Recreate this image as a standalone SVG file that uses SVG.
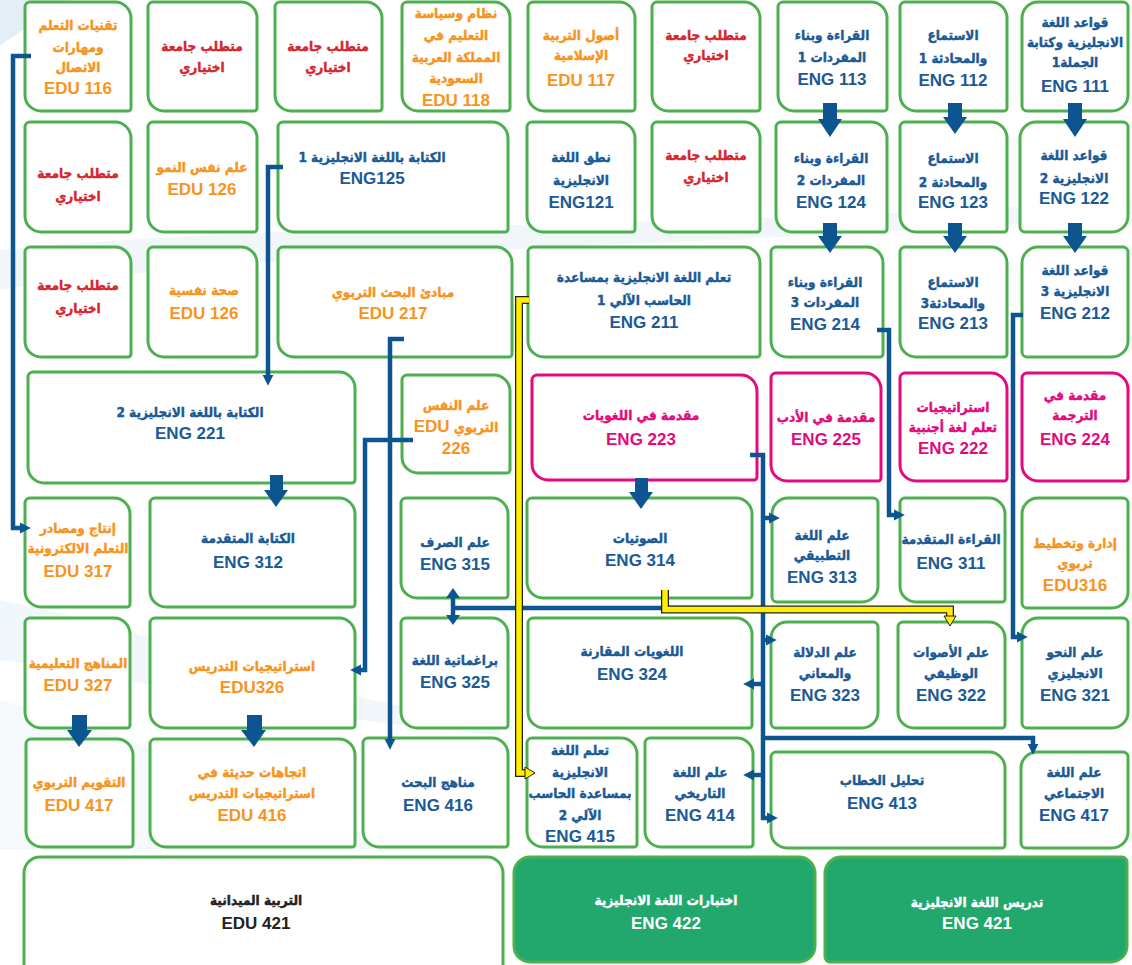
<svg xmlns="http://www.w3.org/2000/svg" width="1132" height="965" viewBox="0 0 1132 965">
<style>
.g{fill:#fff;stroke:#4cb04f;stroke-width:3}
.pk{fill:#fff;stroke:#e4097f;stroke-width:3}
.gf{fill:#22a86c;stroke:#4cb04f;stroke-width:3}
text{font-family:"Liberation Sans","DejaVu Sans",sans-serif;font-weight:bold;text-anchor:middle}
.a{font-family:"DejaVu Sans Condensed","DejaVu Sans",sans-serif;font-size:13.5px;direction:rtl;stroke-width:0.4}
.b{fill:#1b5a95;stroke:#1b5a95}.o{fill:#f7941d;stroke:#f7941d}.r{fill:#d7262e;stroke:#d7262e}.p{fill:#e3097d;stroke:#e3097d}.k{fill:#222;stroke:#222}.w{fill:#fff;stroke:#fff}
text.c{font-size:17px;stroke:none}
.cn{fill:none;stroke:#0d5591;stroke-width:4.5}
.yo{fill:none;stroke:#222;stroke-width:8}
.yi{fill:none;stroke:#ffee00;stroke-width:5.5}
.blk{fill:#0d5591}
</style>
<defs>
<marker id="ah" viewBox="0 0 10 10" refX="2" refY="5" markerWidth="11" markerHeight="12" markerUnits="userSpaceOnUse" orient="auto"><path d="M0,0 L10,5 L0,10 z" fill="#0d5591"/></marker>
<marker id="ahw" viewBox="0 0 10 14" refX="2" refY="7" markerWidth="10" markerHeight="14" markerUnits="userSpaceOnUse" orient="auto-start-reverse"><path d="M0,0 L10,7 L0,14 z" fill="#0d5591"/></marker>
<marker id="ay" viewBox="-1 -1 12 14" refX="1" refY="6" markerWidth="12" markerHeight="14" markerUnits="userSpaceOnUse" orient="auto"><path d="M0,0 L10,6 L0,12 z" fill="#ffee00" stroke="#222" stroke-width="1"/></marker>
</defs>
<rect width="1132" height="965" fill="#ffffff"/>
<g id="background" fill="#e4eef7">
<path d="M0,0 H70 L0,45 z"/>
<path d="M0,250 C300,220 700,230 1132,200 V215 C700,250 300,245 0,290 z" opacity="0.5"/>
<path d="M0,600 C200,640 300,700 500,720 L500,735 C300,720 150,680 0,660 z" opacity="0.5"/>
<path d="M0,700 C150,740 250,790 400,850 L0,850 z" opacity="0.35"/>
</g>

<g id="n-edu116"><path class="g" d="M30,2h85a16 16 0 0 1 16 16v90a3 3 0 0 1-3 3h-87a16 16 0 0 1-16-16v-88a5 5 0 0 1 5-5z"/><text class="a o" x="78" y="30">تقنيات التعلم</text><text class="a o" x="78" y="52">ومهارات</text><text class="a o" x="78" y="72">الاتصال</text><text class="c o" x="78" y="94">EDU 116</text></g>
<g id="n-el1"><path class="g" d="M153,2h88a16 16 0 0 1 16 16v90a3 3 0 0 1-3 3h-90a16 16 0 0 1-16-16v-88a5 5 0 0 1 5-5z"/><text class="a r" x="202" y="51">متطلب جامعة</text><text class="a r" x="202" y="72">اختياري</text></g>
<g id="n-el2"><path class="g" d="M280,2h86a16 16 0 0 1 16 16v90a3 3 0 0 1-3 3h-88a16 16 0 0 1-16-16v-88a5 5 0 0 1 5-5z"/><text class="a r" x="328" y="51">متطلب جامعة</text><text class="a r" x="328" y="72">اختياري</text></g>
<g id="n-edu118"><path class="g" d="M407,2h87a16 16 0 0 1 16 16v90a3 3 0 0 1-3 3h-89a16 16 0 0 1-16-16v-88a5 5 0 0 1 5-5z"/><text class="a o" x="456" y="18">نظام وسياسة</text><text class="a o" x="456" y="40">التعليم في</text><text class="a o" x="456" y="62">المملكة العربية</text><text class="a o" x="456" y="83">السعودية</text><text class="c o" x="456" y="106">EDU 118</text></g>
<g id="n-edu117"><path class="g" d="M533,2h86a16 16 0 0 1 16 16v90a3 3 0 0 1-3 3h-88a16 16 0 0 1-16-16v-88a5 5 0 0 1 5-5z"/><text class="a o" x="581" y="40">أصول التربية</text><text class="a o" x="581" y="60">الإسلامية</text><text class="c o" x="581" y="86">EDU 117</text></g>
<g id="n-el3"><path class="g" d="M657,2h87a16 16 0 0 1 16 16v90a3 3 0 0 1-3 3h-89a16 16 0 0 1-16-16v-88a5 5 0 0 1 5-5z"/><text class="a r" x="706" y="40">متطلب جامعة</text><text class="a r" x="706" y="60">اختياري</text></g>
<g id="n-eng113"><path class="g" d="M783,2h88a16 16 0 0 1 16 16v90a3 3 0 0 1-3 3h-90a16 16 0 0 1-16-16v-88a5 5 0 0 1 5-5z"/><text class="a b" x="832" y="40">القراءة وبناء</text><text class="a b" x="832" y="62">المفردات 1</text><text class="c b" x="832" y="85">ENG 113</text></g>
<g id="n-eng112"><path class="g" d="M905,2h86a16 16 0 0 1 16 16v90a3 3 0 0 1-3 3h-88a16 16 0 0 1-16-16v-88a5 5 0 0 1 5-5z"/><text class="a b" x="953" y="40">الاستماع</text><text class="a b" x="953" y="63">والمحادثة 1</text><text class="c b" x="953" y="86">ENG 112</text></g>
<g id="n-eng111"><path class="g" d="M1038,2h85a5 5 0 0 1 5 5v88a16 16 0 0 1-16 16h-85a5 5 0 0 1-5-5v-88a16 16 0 0 1 16-16z"/><text class="a b" x="1075" y="27">قواعد اللغة</text><text class="a b" x="1075" y="47">الانجليزية وكتابة</text><text class="a b" x="1075" y="67">الجملة1</text><text class="c b" x="1075" y="92">ENG 111</text></g>

<g id="n-el4"><path class="g" d="M30,122h85a16 16 0 0 1 16 16v91a3 3 0 0 1-3 3h-87a16 16 0 0 1-16-16v-89a5 5 0 0 1 5-5z"/><text class="a r" x="78" y="178">متطلب جامعة</text><text class="a r" x="78" y="201">اختياري</text></g>
<g id="n-edu126a"><path class="g" d="M153,122h88a16 16 0 0 1 16 16v91a3 3 0 0 1-3 3h-90a16 16 0 0 1-16-16v-89a5 5 0 0 1 5-5z"/><text class="a o" x="202" y="172">علم نفس النمو</text><text class="c o" x="202" y="195">EDU 126</text></g>
<g id="n-eng125"><path class="g" d="M283,122h209a16 16 0 0 1 16 16v91a3 3 0 0 1-3 3h-211a16 16 0 0 1-16-16v-89a5 5 0 0 1 5-5z"/><text class="a b" x="372" y="162">الكتابة باللغة الانجليزية 1</text><text class="c b" x="372" y="184">ENG125</text></g>
<g id="n-eng121"><path class="g" d="M532,122h87a16 16 0 0 1 16 16v91a3 3 0 0 1-3 3h-89a16 16 0 0 1-16-16v-89a5 5 0 0 1 5-5z"/><text class="a b" x="581" y="162">نطق اللغة</text><text class="a b" x="581" y="185">الانجليزية</text><text class="c b" x="581" y="208">ENG121</text></g>
<g id="n-el5"><path class="g" d="M657,122h87a16 16 0 0 1 16 16v91a3 3 0 0 1-3 3h-89a16 16 0 0 1-16-16v-89a5 5 0 0 1 5-5z"/><text class="a r" x="706" y="160">متطلب جامعة</text><text class="a r" x="706" y="182">اختياري</text></g>
<g id="n-eng124"><path class="g" d="M781,122h90a16 16 0 0 1 16 16v91a3 3 0 0 1-3 3h-92a16 16 0 0 1-16-16v-89a5 5 0 0 1 5-5z"/><text class="a b" x="831" y="163">القراءة وبناء</text><text class="a b" x="831" y="185">المفردات 2</text><text class="c b" x="831" y="208">ENG  124</text></g>
<g id="n-eng123"><path class="g" d="M905,122h86a16 16 0 0 1 16 16v91a3 3 0 0 1-3 3h-88a16 16 0 0 1-16-16v-89a5 5 0 0 1 5-5z"/><text class="a b" x="953" y="163">الاستماع</text><text class="a b" x="953" y="187">والمحادثة 2</text><text class="c b" x="953" y="208">ENG  123</text></g>
<g id="n-eng122"><path class="g" d="M1036,122h87a5 5 0 0 1 5 5v89a16 16 0 0 1-16 16h-87a5 5 0 0 1-5-5v-89a16 16 0 0 1 16-16z"/><text class="a b" x="1074" y="160">قواعد اللغة</text><text class="a b" x="1074" y="183">الانجليزية 2</text><text class="c b" x="1074" y="204">ENG 122</text></g>

<g id="n-el6"><path class="g" d="M30,247h85a16 16 0 0 1 16 16v91a3 3 0 0 1-3 3h-87a16 16 0 0 1-16-16v-89a5 5 0 0 1 5-5z"/><text class="a r" x="78" y="290">متطلب جامعة</text><text class="a r" x="78" y="313">اختياري</text></g>
<g id="n-edu126b"><path class="g" d="M153,247h88a16 16 0 0 1 16 16v91a3 3 0 0 1-3 3h-90a16 16 0 0 1-16-16v-89a5 5 0 0 1 5-5z"/><text class="a o" x="204" y="295">صحة نفسية</text><text class="c o" x="204" y="319">EDU 126</text></g>
<g id="n-edu217"><path class="g" d="M283,247h213a16 16 0 0 1 16 16v91a3 3 0 0 1-3 3h-215a16 16 0 0 1-16-16v-89a5 5 0 0 1 5-5z"/><text class="a o" x="393" y="297">مبادئ البحث التربوي</text><text class="c o" x="393" y="319">EDU 217</text></g>
<g id="n-eng211"><path class="g" d="M533,247h211a16 16 0 0 1 16 16v91a3 3 0 0 1-3 3h-213a16 16 0 0 1-16-16v-89a5 5 0 0 1 5-5z"/><text class="a b" x="644" y="282">تعلم اللغة الانجليزية بمساعدة</text><text class="a b" x="644" y="305">الحاسب الآلي 1</text><text class="c b" x="644" y="328">ENG 211</text></g>
<g id="n-eng214"><path class="g" d="M776,247h91a16 16 0 0 1 16 16v91a3 3 0 0 1-3 3h-93a16 16 0 0 1-16-16v-89a5 5 0 0 1 5-5z"/><text class="a b" x="825" y="287">القراءة وبناء</text><text class="a b" x="825" y="307">المفردات 3</text><text class="c b" x="825" y="330">ENG  214</text></g>
<g id="n-eng213"><path class="g" d="M905,247h86a16 16 0 0 1 16 16v91a3 3 0 0 1-3 3h-88a16 16 0 0 1-16-16v-89a5 5 0 0 1 5-5z"/><text class="a b" x="953" y="287">الاستماع</text><text class="a b" x="953" y="308">والمحادثة3</text><text class="c b" x="953" y="329">ENG  213</text></g>
<g id="n-eng212"><path class="g" d="M1038,247h85a5 5 0 0 1 5 5v89a16 16 0 0 1-16 16h-85a5 5 0 0 1-5-5v-89a16 16 0 0 1 16-16z"/><text class="a b" x="1075" y="275">قواعد اللغة</text><text class="a b" x="1075" y="296">الانجليزية 3</text><text class="c b" x="1075" y="319">ENG 212</text></g>

<g id="n-eng221"><path class="g" d="M33,372h306a16 16 0 0 1 16 16v92a3 3 0 0 1-3 3h-308a16 16 0 0 1-16-16v-90a5 5 0 0 1 5-5z"/><text class="a b" x="190" y="417">الكتابة باللغة الانجليزية 2</text><text class="c b" x="190" y="439">ENG 221</text></g>
<g id="n-edu226"><path class="g" d="M407,375h87a16 16 0 0 1 16 16v79a3 3 0 0 1-3 3h-89a16 16 0 0 1-16-16v-77a5 5 0 0 1 5-5z"/><text class="a o" x="456" y="410">علم النفس</text><text class="a o" x="456" y="432"><tspan>التربوي</tspan> <tspan font-family="Liberation Sans, sans-serif" font-size="17" stroke="none">EDU</tspan></text><text class="c o" x="456" y="454">226</text></g>
<g id="n-eng223"><path class="pk" d="M537,375h204a16 16 0 0 1 16 16v86a3 3 0 0 1-3 3h-206a16 16 0 0 1-16-16v-84a5 5 0 0 1 5-5z"/><text class="a p" x="641" y="420">مقدمة في اللغويات</text><text class="c p" x="641" y="445">ENG 223</text></g>
<g id="n-eng225"><path class="pk" d="M776,373h89a16 16 0 0 1 16 16v89a3 3 0 0 1-3 3h-91a16 16 0 0 1-16-16v-87a5 5 0 0 1 5-5z"/><text class="a p" x="826" y="422">مقدمة في الأدب</text><text class="c p" x="826" y="445">ENG 225</text></g>
<g id="n-eng222"><path class="pk" d="M905,373h86a16 16 0 0 1 16 16v89a3 3 0 0 1-3 3h-88a16 16 0 0 1-16-16v-87a5 5 0 0 1 5-5z"/><text class="a p" x="953" y="412">استراتيجيات</text><text class="a p" x="953" y="432">تعلم لغة أجنبية</text><text class="c p" x="953" y="454">ENG 222</text></g>
<g id="n-eng224"><path class="pk" d="M1027,373h85a16 16 0 0 1 16 16v89a3 3 0 0 1-3 3h-87a16 16 0 0 1-16-16v-87a5 5 0 0 1 5-5z"/><text class="a p" x="1075" y="400">مقدمة في</text><text class="a p" x="1075" y="420">الترجمة</text><text class="c p" x="1075" y="445">ENG 224</text></g>

<g id="n-edu317"><path class="g" d="M30,498h84a16 16 0 0 1 16 16v90a3 3 0 0 1-3 3h-86a16 16 0 0 1-16-16v-88a5 5 0 0 1 5-5z"/><text class="a o" x="78" y="533">إنتاج ومصادر</text><text class="a o" x="78" y="553">التعلم الالكترونية</text><text class="c o" x="78" y="577">EDU 317</text></g>
<g id="n-eng312"><path class="g" d="M155,498h184a16 16 0 0 1 16 16v90a3 3 0 0 1-3 3h-186a16 16 0 0 1-16-16v-88a5 5 0 0 1 5-5z"/><text class="a b" x="248" y="543">الكتابة المتقدمة</text><text class="c b" x="248" y="568">ENG 312</text></g>
<g id="n-eng315"><path class="g" d="M406,498h86a16 16 0 0 1 16 16v81a3 3 0 0 1-3 3h-88a16 16 0 0 1-16-16v-79a5 5 0 0 1 5-5z"/><text class="a b" x="455" y="547">علم الصرف</text><text class="c b" x="455" y="570">ENG 315</text></g>
<g id="n-eng314"><path class="g" d="M532,498h204a16 16 0 0 1 16 16v81a3 3 0 0 1-3 3h-206a16 16 0 0 1-16-16v-79a5 5 0 0 1 5-5z"/><text class="a b" x="640" y="543">الصوتيات</text><text class="c b" x="640" y="566">ENG 314</text></g>
<g id="n-eng313"><path class="g" d="M788,498h85a5 5 0 0 1 5 5v83a16 16 0 0 1-16 16h-85a5 5 0 0 1-5-5v-83a16 16 0 0 1 16-16z"/><text class="a b" x="822" y="540">علم اللغة</text><text class="a b" x="822" y="560">التطبيقي</text><text class="c b" x="822" y="583">ENG 313</text></g>
<g id="n-eng311"><path class="g" d="M905,498h84a16 16 0 0 1 16 16v85a3 3 0 0 1-3 3h-86a16 16 0 0 1-16-16v-83a5 5 0 0 1 5-5z"/><text class="a b" x="951" y="544">القراءة المتقدمة</text><text class="c b" x="951" y="569">ENG 311</text></g>
<g id="n-edu316"><path class="g" d="M1038,498h85a5 5 0 0 1 5 5v89a16 16 0 0 1-16 16h-85a5 5 0 0 1-5-5v-89a16 16 0 0 1 16-16z"/><text class="a o" x="1075" y="548">إدارة وتخطيط</text><text class="a o" x="1075" y="568">تربوي</text><text class="c o" x="1075" y="591">EDU316</text></g>

<g id="n-edu327"><path class="g" d="M30,618h84a16 16 0 0 1 16 16v91a3 3 0 0 1-3 3h-86a16 16 0 0 1-16-16v-89a5 5 0 0 1 5-5z"/><text class="a o" x="78" y="668">المناهج التعليمية</text><text class="c o" x="78" y="691">EDU 327</text></g>
<g id="n-edu326"><path class="g" d="M155,618h184a16 16 0 0 1 16 16v91a3 3 0 0 1-3 3h-186a16 16 0 0 1-16-16v-89a5 5 0 0 1 5-5z"/><text class="a o" x="252" y="671">استراتيجيات التدريس</text><text class="c o" x="252" y="693">EDU326</text></g>
<g id="n-eng325"><path class="g" d="M406,618h86a16 16 0 0 1 16 16v91a3 3 0 0 1-3 3h-88a16 16 0 0 1-16-16v-89a5 5 0 0 1 5-5z"/><text class="a b" x="455" y="665">براغماتية اللغة</text><text class="c b" x="455" y="688">ENG 325</text></g>
<g id="n-eng324"><path class="g" d="M533,618h203a16 16 0 0 1 16 16v91a3 3 0 0 1-3 3h-205a16 16 0 0 1-16-16v-89a5 5 0 0 1 5-5z"/><text class="a b" x="632" y="656">اللغويات المقارنة</text><text class="c b" x="632" y="680">ENG 324</text></g>
<g id="n-eng323"><path class="g" d="M787,622h86a5 5 0 0 1 5 5v85a16 16 0 0 1-16 16h-86a5 5 0 0 1-5-5v-85a16 16 0 0 1 16-16z"/><text class="a b" x="825" y="657">علم الدلالة</text><text class="a b" x="825" y="678">والمعاني</text><text class="c b" x="825" y="701">ENG 323</text></g>
<g id="n-eng322"><path class="g" d="M903,622h86a16 16 0 0 1 16 16v87a3 3 0 0 1-3 3h-88a16 16 0 0 1-16-16v-85a5 5 0 0 1 5-5z"/><text class="a b" x="951" y="657">علم الأصوات</text><text class="a b" x="951" y="678">الوظيفي</text><text class="c b" x="951" y="701">ENG 322</text></g>
<g id="n-eng321"><path class="g" d="M1038,618h85a5 5 0 0 1 5 5v89a16 16 0 0 1-16 16h-85a5 5 0 0 1-5-5v-89a16 16 0 0 1 16-16z"/><text class="a b" x="1075" y="657">علم النحو</text><text class="a b" x="1075" y="678">الانجليزي</text><text class="c b" x="1075" y="701">ENG 321</text></g>

<g id="n-edu417"><path class="g" d="M31,739h86a16 16 0 0 1 16 16v89a3 3 0 0 1-3 3h-88a16 16 0 0 1-16-16v-87a5 5 0 0 1 5-5z"/><text class="a o" x="79" y="787">التقويم التربوي</text><text class="c o" x="79" y="811">EDU 417</text></g>
<g id="n-edu416"><path class="g" d="M155,739h184a16 16 0 0 1 16 16v89a3 3 0 0 1-3 3h-186a16 16 0 0 1-16-16v-87a5 5 0 0 1 5-5z"/><text class="a o" x="252" y="777">اتجاهات حديثة في</text><text class="a o" x="252" y="798">استراتيجيات التدريس</text><text class="c o" x="252" y="821">EDU 416</text></g>
<g id="n-eng416"><path class="g" d="M368,738h124a16 16 0 0 1 16 16v90a3 3 0 0 1-3 3h-126a16 16 0 0 1-16-16v-88a5 5 0 0 1 5-5z"/><text class="a b" x="438" y="787">مناهج البحث</text><text class="c b" x="438" y="811">ENG 416</text></g>
<g id="n-eng415"><path class="g" d="M532,738h89a16 16 0 0 1 16 16v90a3 3 0 0 1-3 3h-91a16 16 0 0 1-16-16v-88a5 5 0 0 1 5-5z"/><text class="a b" x="580" y="755">تعلم اللغة</text><text class="a b" x="580" y="777">الانجليزية</text><text class="a b" x="580" y="798">بمساعدة الحاسب</text><text class="a b" x="580" y="820">الآلي 2</text><text class="c b" x="580" y="842">ENG 415</text></g>
<g id="n-eng414"><path class="g" d="M650,738h87a16 16 0 0 1 16 16v90a3 3 0 0 1-3 3h-89a16 16 0 0 1-16-16v-88a5 5 0 0 1 5-5z"/><text class="a b" x="700" y="777">علم اللغة</text><text class="a b" x="700" y="798">التاريخي</text><text class="c b" x="700" y="821">ENG 414</text></g>
<g id="n-eng413"><path class="g" d="M776,752h213a16 16 0 0 1 16 16v77a3 3 0 0 1-3 3h-215a16 16 0 0 1-16-16v-75a5 5 0 0 1 5-5z"/><text class="a b" x="882" y="785">تحليل الخطاب</text><text class="c b" x="882" y="809">ENG 413</text></g>
<g id="n-eng417"><path class="g" d="M1037,752h86a5 5 0 0 1 5 5v75a16 16 0 0 1-16 16h-86a5 5 0 0 1-5-5v-75a16 16 0 0 1 16-16z"/><text class="a b" x="1074" y="777">علم اللغة</text><text class="a b" x="1074" y="798">الاجتماعي</text><text class="c b" x="1074" y="821">ENG 417</text></g>

<g id="n-edu421"><rect class="g" x="24" y="857" width="479" height="125" rx="16"/><text class="a k" x="256" y="905">التربية الميدانية</text><text class="c k" x="256" y="929">EDU 421</text></g>
<g id="n-eng422"><rect class="gf" x="514" y="857" width="301" height="105" rx="16"/><text class="a w" x="666" y="905">اختبارات اللغة الانجليزية</text><text class="c w" x="666" y="929">ENG 422</text></g>
<g id="n-eng421"><path class="gf" d="M841,857h281a5 5 0 0 1 5 5v84a16 16 0 0 1-16 16h-281a5 5 0 0 1-5-5v-84a16 16 0 0 1 16-16z"/><text class="a w" x="977" y="907">تدريس اللغة الانجليزية</text><text class="c w" x="977" y="929">ENG 421</text></g>

<g id="connectors">
<path class="cn" d="M31,56 H13 V528 H22" marker-end="url(#ah)"/>
<path class="cn" d="M283,167 H268 V377" marker-end="url(#ah)"/>
<path class="cn" d="M404,339 H390 V741" marker-end="url(#ah)"/>
<path class="cn" d="M413,440 H365 V670 H359" marker-end="url(#ah)"/>
<path class="cn" d="M877,330 H889 V515 H896" marker-end="url(#ah)"/>
<path class="cn" d="M1023,315 H1013 V637 H1019" marker-end="url(#ah)"/>
<path class="cn" d="M452,608 H763"/>
<path class="cn" d="M453,596 V617" marker-start="url(#ahw)" marker-end="url(#ahw)"/>
<path class="cn" d="M750,455 H763 V818 H769" marker-end="url(#ah)"/>
<path class="cn" d="M763,518 H771" marker-end="url(#ah)"/>
<path class="cn" d="M763,640 H768" marker-end="url(#ah)"/>
<path class="cn" d="M763,684 H752" marker-end="url(#ah)"/>
<path class="cn" d="M763,775 H752" marker-end="url(#ah)"/>
<path class="cn" d="M763,738 H1033 V746" marker-end="url(#ah)"/>
<path class="yo" d="M529,300 H519 V773 H526"/>
<path class="yi" d="M529,300 H519 V773 H526" marker-end="url(#ay)"/>
<path class="yo" d="M665,590 V609.5 H950 V617"/>
<path class="yi" d="M665,590 V609.5 H950 V617" marker-end="url(#ay)"/>
<polygon class="blk" points="823,103 837,103 837,119 842,119 830,137 818,119 823,119"/>
<polygon class="blk" points="948,103 962,103 962,117 967,117 955,134 943,117 948,117"/>
<polygon class="blk" points="1068,103 1082,103 1082,119 1087,119 1075,137 1063,119 1068,119"/>
<polygon class="blk" points="823,223 837,223 837,236 842,236 830,253 818,236 823,236"/>
<polygon class="blk" points="948,223 962,223 962,236 967,236 955,253 943,236 948,236"/>
<polygon class="blk" points="1068,223 1082,223 1082,236 1087,236 1075,253 1063,236 1068,236"/>
<polygon class="blk" points="270,475 283,475 283,490 288,490 276,507 264,490 270,490"/>
<polygon class="blk" points="635,478 648,478 648,492 653,492 641,509 629,492 635,492"/>
<polygon class="blk" points="72,715 87,715 87,730 92,730 79,747 67,730 72,730"/>
<polygon class="blk" points="247,715 262,715 262,730 266,730 254,747 241,730 247,730"/>
</g>
</svg>
